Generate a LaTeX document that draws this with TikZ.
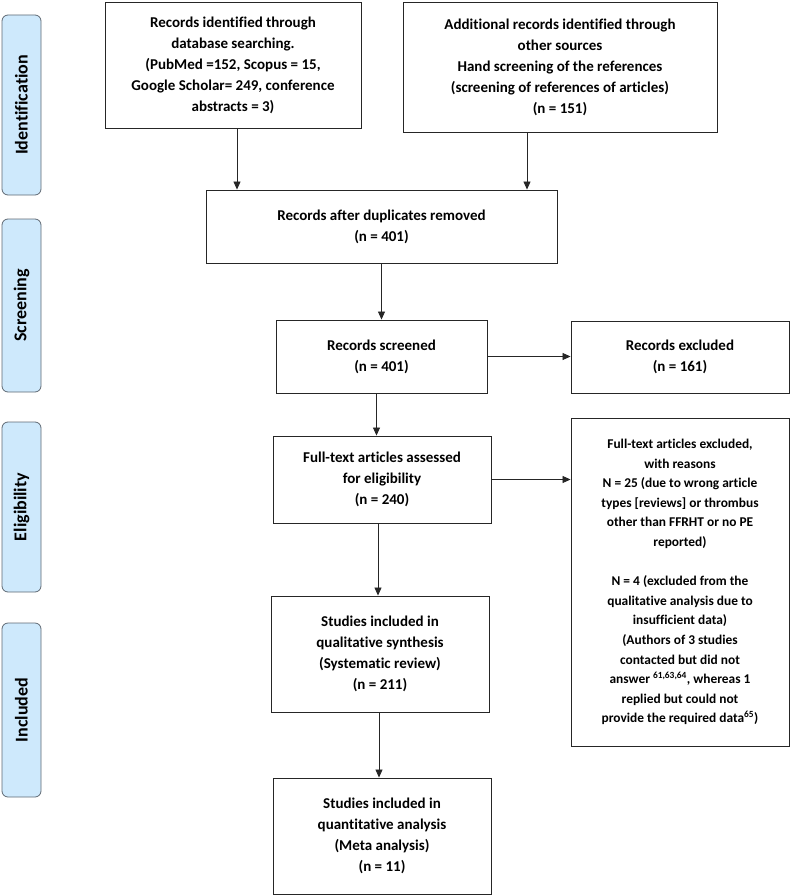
\documentclass[tikz,border=0pt]{standalone}
\usepackage{fontspec}
\setmainfont{Carlito}[Ligatures={TeX,NoCommon}]
\usetikzlibrary{arrows.meta}
\definecolor{sidefill}{RGB}{206,233,252}
\definecolor{sidedraw}{RGB}{95,105,115}
\begin{document}
\begin{tikzpicture}[x=1pt,y=-1pt,
  box/.style={draw=black!85, line width=0.9pt, align=center, inner sep=0pt,
    font=\fontsize{15}{21}\selectfont\bfseries},
  side/.style={draw=sidedraw, fill=sidefill, line width=0.8pt, rounded corners=6pt,
    rotate=90, minimum height=39pt, inner sep=0pt,
    font=\fontsize{18}{20}\selectfont\bfseries},
  arr/.style={-{Triangle[length=8pt,width=7pt]}, line width=0.8pt, draw=black!85}]
\useasboundingbox (0,0) rectangle (790,896);
% side labels
\node[side, minimum width=180pt] (s1) at (21.5,105) {Identification};
\node[side, minimum width=173pt] (s2) at (21.5,305.5) {Screening};
\node[side, minimum width=170pt] (s3) at (21.5,507) {Eligibility};
\node[side, minimum width=174pt] (s4) at (21.5,710) {Included};
% boxes
\node[box, minimum width=256pt, minimum height=126pt] (A) at (233,65)
  {Records identified through\\database searching.\\(PubMed =152, Scopus = 15,\\Google Scholar= 249, conference\\abstracts = 3)};
\node[box, minimum width=314pt, minimum height=130pt] (B) at (560,67)
  {Additional records identified through\\other sources\\Hand screening of the references\\(screening of references of articles)\\(n = 151)};
\node[box, minimum width=351pt, minimum height=73pt] (C) at (381.5,226.5)
  {Records after duplicates removed\\(n = 401)};
\node[box, minimum width=211pt, minimum height=73pt] (D) at (381.5,356.5)
  {Records screened\\(n = 401)};
\node[box, minimum width=218pt, minimum height=72pt] (E) at (680,357)
  {Records excluded\\(n = 161)};
\node[box, minimum width=218pt, minimum height=87pt] (F) at (382,479.5)
  {Full-text articles assessed\\for eligibility\\(n = 240)};
\node[box, minimum width=218pt, minimum height=328pt,
  font=\fontsize{13.4}{19.6}\selectfont\bfseries] (G) at (680,582)
  {Full-text articles excluded,\\with reasons\\N = 25 (due to wrong article\\types [reviews] or thrombus\\other than FFRHT or no PE\\reported)\\[19.6pt]N = 4 (excluded from the\\qualitative analysis due to\\insufficient data)\\(Authors of 3 studies\\contacted but did not\\answer \textsuperscript{61,63,64}, whereas 1\\replied but could not\\provide the required data\textsuperscript{65})};
\node[box, minimum width=218pt, minimum height=116pt] (H) at (380,654)
  {Studies included in\\qualitative synthesis\\(Systematic review)\\(n = 211)};
\node[box, minimum width=218pt, minimum height=116pt] (I) at (382,836)
  {Studies included in\\quantitative analysis\\(Meta analysis)\\(n = 11)};
% connectors
\coordinate (a1) at ([xshift=4pt]A.south);
\coordinate (b1) at ([xshift=-33pt]B.south);
\coordinate (d1) at ([xshift=-5pt]D.south);
\coordinate (f1) at ([xshift=-4pt]F.south);
\coordinate (h1) at ([xshift=-1pt]H.south);
\draw[arr] (a1) -- (a1 |- C.north);
\draw[arr] (b1) -- (b1 |- C.north);
\draw[arr] (C.south) -- (D.north);
\draw[arr] (D.east) -- (D.east -| E.west);
\draw[arr] (d1) -- (d1 |- F.north);
\draw[arr] (F.east) -- (F.east -| G.west);
\draw[arr] (f1) -- (f1 |- H.north);
\draw[arr] (h1) -- (h1 |- I.north);
\end{tikzpicture}
\end{document}
